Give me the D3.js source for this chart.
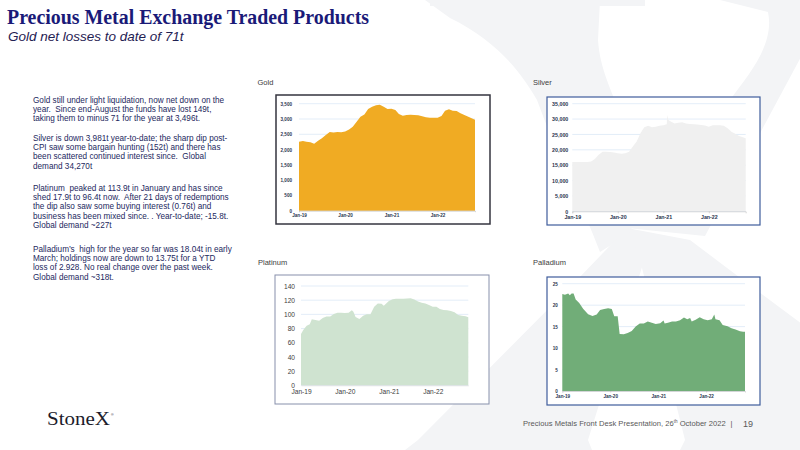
<!DOCTYPE html>
<html><head><meta charset="utf-8">
<script src="https://cdn.jsdelivr.net/npm/d3@7/dist/d3.min.js"></script>
<style>body{margin:0;background:#fff}svg{display:block}text{white-space:pre}</style>
</head><body><svg id="c" width="800" height="450"></svg>
<script>
// ---------------- DATA ----------------
const xTickDates = ["2019-01-01","2020-01-01","2021-01-01","2022-01-01"];
const xTickLabels = ["Jan-19","Jan-20","Jan-21","Jan-22"];
const dateStart = "2019-01-01", dateEnd = "2022-10-24";

const goldTicks = [0,500,1000,1500,2000,2500,3000,3500];
const silverTicks = [0,5000,10000,15000,20000,25000,30000,35000];
const platinumTicks = [0,20,40,60,80,100,120,140];
const palladiumTicks = [0,5,10,15,20,25];

const goldSeries = [
 ["2019-01-01",2257],["2019-02-01",2280],["2019-03-01",2257],["2019-04-01",2235],["2019-05-01",2190],["2019-06-01",2290],
 ["2019-07-01",2366],["2019-08-01",2475],["2019-09-01",2574],["2019-10-01",2560],["2019-11-01",2574],["2019-12-01",2565],
 ["2020-01-01",2590],["2020-02-01",2660],["2020-03-01",2748],["2020-04-01",2912],["2020-05-01",3075],["2020-06-01",3150],
 ["2020-07-01",3330],["2020-08-01",3402],["2020-09-01",3446],["2020-10-01",3468],["2020-11-01",3402],["2020-12-01",3326],
 ["2021-01-01",3337],["2021-02-01",3293],["2021-03-01",3162],["2021-04-01",3108],["2021-05-01",3130],["2021-06-01",3141],
 ["2021-07-01",3130],["2021-08-01",3119],["2021-09-01",3086],["2021-10-01",3053],["2021-11-01",3043],["2021-12-01",3043],
 ["2022-01-01",3043],["2022-02-01",3097],["2022-03-01",3272],["2022-04-01",3315],["2022-05-01",3272],["2022-06-01",3265],
 ["2022-07-01",3184],["2022-08-01",3130],["2022-09-01",3075],["2022-10-24",2977]
];
const silverSeries = [
 ["2019-01-01",16000],["2019-02-01",16000],["2019-03-01",16000],["2019-04-01",16000],["2019-05-01",16000],["2019-06-01",16200],
 ["2019-07-01",17000],["2019-08-01",18400],["2019-09-01",19400],["2019-10-01",19400],["2019-11-01",19300],["2019-12-01",19100],
 ["2020-01-01",18900],["2020-02-01",18700],["2020-03-01",18900],["2020-04-01",19400],["2020-05-01",21100],["2020-06-01",22700],
 ["2020-07-01",25400],["2020-08-01",27300],["2020-09-01",27800],["2020-10-01",27300],["2020-11-01",27500],["2020-12-01",27800],
 ["2021-01-01",28000],["2021-01-28",28300],["2021-02-02",31300],["2021-02-10",29700],["2021-03-01",29200],["2021-04-01",28600],
 ["2021-05-01",28800],["2021-06-01",29000],["2021-07-01",28600],["2021-08-01",28400],["2021-09-01",28300],["2021-10-01",28200],
 ["2021-11-01",28100],["2021-12-01",27900],["2022-01-01",27500],["2022-02-01",28000],["2022-03-01",28000],["2022-04-01",28000],
 ["2022-05-01",27800],["2022-06-01",27000],["2022-07-01",25900],["2022-08-01",25200],["2022-09-01",24500],["2022-10-01",24100],
 ["2022-10-24",23800]
];
const platinumSeries = [
 ["2019-01-01",72.3],["2019-01-20",78],["2019-02-17",84],["2019-03-15",86],["2019-04-01",93],["2019-05-01",92],
 ["2019-06-01",91],["2019-07-01",95],["2019-08-01",97],["2019-09-01",97],["2019-10-01",100.5],["2019-11-01",102.4],
 ["2019-12-01",102.4],["2020-01-01",102],["2020-02-01",102.4],["2020-02-28",105.7],["2020-03-12",103.8],["2020-03-30",96.3],
 ["2020-05-01",93.5],["2020-06-01",98],["2020-07-01",100],["2020-08-01",100],["2020-09-01",110.8],["2020-10-01",115.5],
 ["2020-11-01",115],["2020-11-20",112],["2020-12-01",114],["2021-01-01",118.8],["2021-02-01",121.2],["2021-03-01",122],
 ["2021-04-01",122],["2021-05-01",122],["2021-06-01",122.3],["2021-07-01",122.6],["2021-08-01",121],["2021-09-01",118],
 ["2021-10-01",116.5],["2021-11-01",115.5],["2021-12-01",113.2],["2022-01-01",110.8],["2022-02-01",110.8],["2022-03-01",107.6],
 ["2022-04-01",106],["2022-05-01",105.7],["2022-06-01",104.7],["2022-07-01",102.9],["2022-08-01",99],["2022-09-01",98],
 ["2022-10-01",97.2],["2022-10-24",95.8]
];
const palladiumSeries = [
 ["2019-01-01",22.6],["2019-01-21",22.4],["2019-02-15",22.7],["2019-02-27",22.3],["2019-03-13",22.7],["2019-03-28",22.7],
 ["2019-04-13",21.3],["2019-05-10",20.5],["2019-06-10",19.1],["2019-07-17",17.9],["2019-08-19",17.5],["2019-09-20",17.8],
 ["2019-10-16",18.9],["2019-11-16",19.1],["2019-12-16",19.3],["2020-01-13",19.1],["2020-02-01",17.4],["2020-02-27",17.4],
 ["2020-03-13",13.3],["2020-04-13",13.2],["2020-05-13",13.5],["2020-06-13",14.0],["2020-07-13",15.0],["2020-08-13",15.7],
 ["2020-09-13",15.7],["2020-10-13",16.2],["2020-11-13",15.9],["2020-12-13",15.6],["2021-01-16",15.8],["2021-02-10",16.4],
 ["2021-02-19",15.7],["2021-03-16",15.9],["2021-04-16",16.2],["2021-05-16",16.2],["2021-06-16",16.5],["2021-07-16",17.1],
 ["2021-08-10",16.7],["2021-09-01",17.0],["2021-09-13",16.2],["2021-10-13",16.6],["2021-11-13",17.2],["2021-12-13",16.7],
 ["2022-01-13",16.5],["2022-02-13",16.7],["2022-03-04",17.8],["2022-03-13",16.7],["2022-04-13",16.5],["2022-05-07",15.4],
 ["2022-06-13",15.1],["2022-07-13",14.6],["2022-08-13",14.3],["2022-09-16",13.9],["2022-10-10",13.8],["2022-10-24",13.8]
];

const textParagraphs = [
 ["Gold still under light liquidation, now net down on the","year.  Since end-August the funds have lost 149t,","taking them to minus 71 for the year at 3,496t."],
 ["Silver is down 3,981t year-to-date; the sharp dip post-","CPI saw some bargain hunting (152t) and there has","been scattered continued interest since.  Global","demand 34,270t"],
 ["Platinum  peaked at 113.9t in January and has since","shed 17.9t to 96.4t now.  After 21 days of redemptions","the dip also saw some buying interest (0.76t) and","business has been mixed since. . Year-to-date; -15.8t.","Global demand ~227t"],
 ["Palladium\u2019s  high for the year so far was 18.04t in early","March; holdings now are down to 13.75t for a YTD","loss of 2.928. No real change over the past week.","Global demand ~318t."]
];

// ---------------- DRAW ----------------
const svg = d3.select("#c");
const parse = d3.timeParse("%Y-%m-%d");

// watermark X
const wm = svg.append("g").attr("fill","#f3f4f6");
[
 "M425,0 L600,0 L598,40 C600,70 612,90 618,110 L632,232 L600,252 C580,200 555,150 537,100 C520,70 495,40 450,18 Z",
 "M720,0 L810,0 L810,40 L705,236 L627,228 C660,170 700,130 730,100 C748,75 775,45 768,12 Z",
 "M627,228 L648,248 L588,440 L592,450 L405,450 L418,440 L577,280 Z",
 "M627,228 L690,240 L743,280 L810,330 L810,450 L680,450 L685,440 L638,252 Z",
 "M430,0 L645,0 L645,6 L430,6 Z"
].forEach(p=>wm.append("path").attr("d",p));

// title
svg.append("text").attr("x",7).attr("y",24).attr("font-family","Liberation Serif, Times New Roman, serif")
  .attr("font-weight","bold").attr("font-size",20).attr("fill","#1a1a78")
  .attr("textLength",362).attr("lengthAdjust","spacingAndGlyphs")
  .text("Precious Metal Exchange Traded Products");
svg.append("text").attr("x",8).attr("y",41).attr("font-family","Liberation Sans, Arial, sans-serif")
  .attr("font-style","italic").attr("font-size",13.5).attr("fill","#1f2152")
  .text("Gold net losses to date of 71t");

// text block
const paraStarts = [102.5,140.8,190.8,251.8];
textParagraphs.forEach((lines,i)=>{
  lines.forEach((ln,j)=>{
    svg.append("text").attr("x",33).attr("y",paraStarts[i]+j*9.3)
      .attr("font-family","Liberation Sans, Arial, sans-serif").attr("font-size",8.2)
      .attr("fill","#23285e").text(ln);
  });
});

function drawChart(cfg){
  const g = svg.append("g");
  g.append("rect").attr("x",cfg.box[0]).attr("y",cfg.box[1]).attr("width",cfg.box[2]).attr("height",cfg.box[3])
    .attr("fill","#fff").attr("stroke",cfg.border).attr("stroke-width",cfg.borderW);
  g.append("text").attr("x",cfg.title[1]).attr("y",cfg.title[2]).attr("font-family","Liberation Sans, Arial, sans-serif")
    .attr("font-size",7.5).attr("fill","#404040").text(cfg.title[0]);
  const x = d3.scaleTime().domain([parse(dateStart),parse(dateEnd)]).range([cfg.plot[0],cfg.plot[1]]);
  const y = d3.scaleLinear().domain([0,cfg.ticks[cfg.ticks.length-1]]).range([cfg.plot[2],cfg.plot[3]]);
  g.append("g").selectAll("line").data(cfg.ticks).join("line")
    .attr("x1",cfg.plot[0]).attr("x2",cfg.plot[1]).attr("y1",d=>y(d)).attr("y2",d=>y(d))
    .attr("stroke","#dce9f6").attr("stroke-width",0.8);
  const area = d3.area().x(d=>x(parse(d[0]))).y0(y(0)).y1(d=>y(d[1]));
  g.append("path").datum(cfg.data).attr("d",area).attr("fill",cfg.fill);
  const ya = d3.axisLeft(y).tickValues(cfg.ticks).tickSize(0).tickPadding(cfg.yPad).tickFormat(cfg.fmt);
  const yg = g.append("g").attr("transform",`translate(${cfg.plot[0]},0)`).call(ya);
  yg.select(".domain").remove();
  const xa = d3.axisBottom(x).tickValues(xTickDates.map(parse)).tickSize(cfg.xTick).tickPadding(cfg.xPad)
    .tickFormat((d,i)=>xTickLabels[i]);
  const xg = g.append("g").attr("transform",`translate(0,${cfg.plot[2]})`).call(xa);
  xg.select(".domain").attr("stroke",cfg.axisColor).attr("stroke-width",0.6);
  xg.selectAll(".tick line").attr("stroke",cfg.axisColor).attr("stroke-width",0.6);
  [yg,xg].forEach(a=>a.selectAll("text").attr("font-family","Liberation Sans, Arial, sans-serif")
    .attr("font-size",cfg.fs).attr("font-weight",cfg.fw).attr("fill",cfg.tc));
}

const fmtComma = d3.format(",");
drawChart({box:[276,95,214,129],title:["Gold",257.5,85],plot:[299,475,210.7,103.7],ticks:goldTicks,data:goldSeries,
  fill:"#f0ab23",border:"#35353f",borderW:1.5,fmt:fmtComma,yPad:7,xPad:2,xTick:1.5,fs:4.6,fw:"bold",tc:"#2a3550",axisColor:"#bfbfbf"});
drawChart({box:[547,97,213,128],title:["Silver",533,85],plot:[572.3,745.7,211.3,103.7],ticks:silverTicks,data:silverSeries,
  fill:"#f0f0f0",border:"#3f5c9c",borderW:1.2,fmt:fmtComma,yPad:4,xPad:2,xTick:2,fs:5.3,fw:"bold",tc:"#2a3550",axisColor:"#bfbfbf"});
drawChart({box:[275,275,214,129],title:["Platinum",258,265],plot:[301,468.3,385.3,286],ticks:platinumTicks,data:platinumSeries,
  fill:"#cfe3d0",border:"#8790ab",borderW:1,fmt:d3.format("d"),yPad:6,xPad:4,xTick:0,fs:6.6,fw:"normal",tc:"#404040",axisColor:"#d9d9d9"});
drawChart({box:[547,277,213,128],title:["Palladium",533,265],plot:[562.3,745,391,283.7],ticks:palladiumTicks,data:palladiumSeries,
  fill:"#71ad78",border:"#3f5c9c",borderW:1.2,fmt:d3.format("d"),yPad:4.5,xPad:2,xTick:1.5,fs:4.6,fw:"bold",tc:"#2a3550",axisColor:"#bfbfbf"});

// footer
const ft = svg.append("text").attr("x",523).attr("y",426).attr("font-family","Liberation Sans, Arial, sans-serif")
  .attr("font-size",7.6).attr("fill","#595959");
ft.append("tspan").text("Precious Metals Front Desk Presentation, 26");
ft.append("tspan").attr("font-size",4.6).attr("dy",-2.9).text("th");
ft.append("tspan").attr("dy",2.9).text(" October 2022");
svg.append("text").attr("x",730.5).attr("y",426).attr("font-family","Liberation Sans, Arial, sans-serif")
  .attr("font-size",7.6).attr("fill","#595959").text("|");
svg.append("text").attr("x",743).attr("y",426.5).attr("font-family","Liberation Sans, Arial, sans-serif")
  .attr("font-size",9).attr("fill","#595959").text("19");

// logo
svg.append("text").attr("x",47).attr("y",425).attr("font-family","Liberation Serif, Times New Roman, serif")
  .attr("font-size",18).attr("fill","#1b1b2b").attr("textLength",63).attr("lengthAdjust","spacingAndGlyphs").text("StoneX");
svg.append("text").attr("x",111).attr("y",416).attr("font-family","Liberation Sans, Arial, sans-serif")
  .attr("font-size",3.5).attr("fill","#1b1b2b").text("\u00ae");
</script></body></html>
